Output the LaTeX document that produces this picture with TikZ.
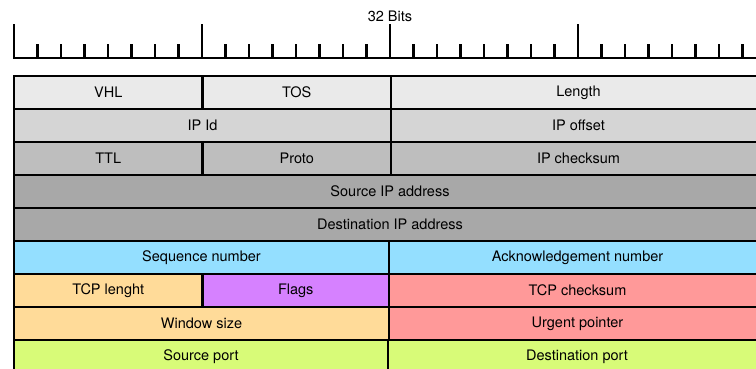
\documentclass[tikz,border=0pt]{standalone}
\usepackage{fontspec}
\setmainfont{TeX Gyre Heros}
\usepackage{tikz}
\usetikzlibrary{positioning}

\definecolor{ipA}{HTML}{EAEAEA}
\definecolor{ipB}{HTML}{D5D5D5}
\definecolor{ipC}{HTML}{BEBEBE}
\definecolor{ipD}{HTML}{A8A8A8}
\definecolor{tcpBlue}{HTML}{94DFFF}
\definecolor{tcpOrange}{HTML}{FFDB99}
\definecolor{tcpPurple}{HTML}{D681FF}
\definecolor{tcpRed}{HTML}{FF9999}
\definecolor{tcpGreen}{HTML}{D8FB78}

\begin{document}
\begin{tikzpicture}[
        x=1pt, y=-1pt,
        every node/.style={font=\fontsize{14.5}{17}\selectfont},
        field/.style={draw, line width=2.5pt, outer sep=0pt, inner sep=0pt, minimum height=33pt},
        byte/.style={field, minimum width=188.5pt},
        half/.style={field, minimum width=376pt},
        full/.style={field, minimum width=752pt},
        tick/.style={line width=2.2pt}
    ]
    \useasboundingbox (0,0) rectangle (756,369);
    \clip (0,0) rectangle (756,369);

    % Ruler
    \node (Bits) at (390,16) {32 Bits};
    \draw [tick] (13,58) -- (766,58);
    \foreach \i in {0,...,32} {
        \pgfmathtruncatemacro{\major}{mod(\i,8)==0}
        \ifnum\major=1
            \draw [tick] (14+23.5*\i,58) -- (14+23.5*\i,24);
        \else
            \draw [tick] (14+23.5*\i,58) -- (14+23.5*\i,44);
        \fi
    }

    % IP header
    \node (VHL) [byte, fill=ipA, anchor=north west] at (14,76) {VHL};
    \node (TOS) [byte, fill=ipA, right=0pt of VHL] {TOS};
    \node (Len) [half, fill=ipA, right=0pt of TOS, minimum width=375pt] {Length};

    \node (IPId) [half, fill=ipB, anchor=north west, minimum width=377pt] at (14,109) {IP Id};
    \node (IPOff) [half, fill=ipB, right=0pt of IPId, minimum width=375pt] {IP offset};

    \node (TTL) [byte, fill=ipC, anchor=north west] at (14,142) {TTL};
    \node (Proto) [byte, fill=ipC, right=0pt of TTL] {Proto};
    \node (IPSum) [half, fill=ipC, right=0pt of Proto, minimum width=375pt] {IP checksum};

    \node (SrcIP) [full, fill=ipD, anchor=north west] at (14,175) {Source IP address};
    \node (DstIP) [full, fill=ipD, anchor=north west] at (14,208) {Destination IP address};

    % TCP header
    \node (Seq) [half, fill=tcpBlue, anchor=north west, minimum width=375pt] at (14,241) {Sequence number};
    \node (Ack) [half, fill=tcpBlue, right=0pt of Seq, minimum width=377pt] {Acknowledgement number};

    \node (TCPLen) [byte, fill=tcpOrange, anchor=north west] at (14,274) {TCP lenght};
    \node (Flags) [byte, fill=tcpPurple, right=0pt of TCPLen, minimum width=186.5pt] {Flags};
    \node (TCPSum) [half, fill=tcpRed, right=0pt of Flags, minimum width=377pt] {TCP checksum};

    \node (Win) [half, fill=tcpOrange, anchor=north west, minimum width=375pt] at (14,307) {Window size};
    \node (Urg) [half, fill=tcpRed, right=0pt of Win, minimum width=377pt] {Urgent pointer};

    \node (SrcPort) [half, fill=tcpGreen, anchor=north west, minimum width=374pt] at (14,340) {Source port};
    \node (DstPort) [half, fill=tcpGreen, right=0pt of SrcPort, minimum width=378pt] {Destination port};

    \end{tikzpicture}
\end{document}
